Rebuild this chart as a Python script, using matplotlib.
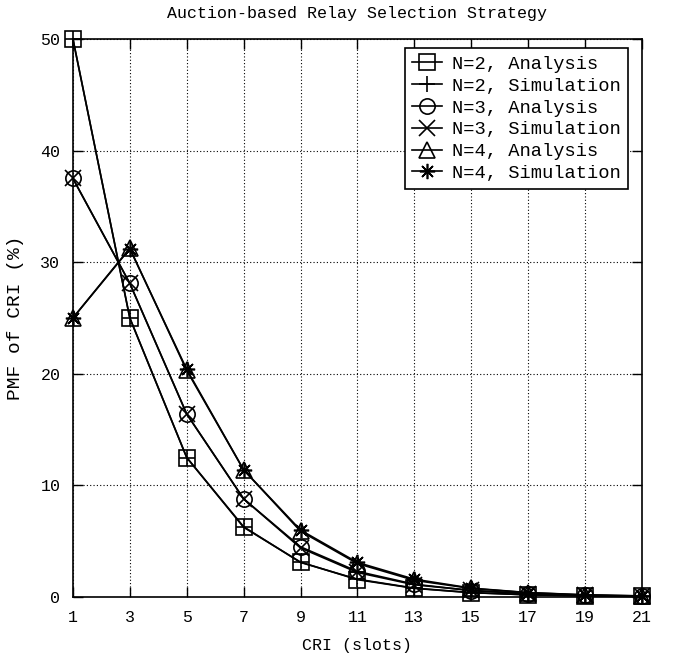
import matplotlib.pyplot as plt
import numpy as np

plt.rcParams['font.family'] = ['Liberation Mono', 'DejaVu Sans Mono']

cri = [1, 3, 5, 7, 9, 11, 13, 15, 17, 19, 21]

# PMF of CRI (%)
n2_ana = [50.0, 25.0, 12.5, 6.25, 3.13, 1.56, 0.78, 0.39, 0.2, 0.1, 0.05]
n2_sim = [50.0, 25.0, 12.5, 6.3, 3.1, 1.6, 0.8, 0.4, 0.2, 0.1, 0.05]
n3_ana = [37.5, 28.1, 16.4, 8.8, 4.5, 2.3, 1.15, 0.58, 0.29, 0.14, 0.07]
n3_sim = [37.5, 28.1, 16.4, 8.8, 4.4, 2.2, 1.1, 0.6, 0.3, 0.15, 0.07]
n4_ana = [25.0, 31.25, 20.3, 11.4, 5.9, 3.0, 1.5, 0.77, 0.39, 0.19, 0.1]
n4_sim = [25.0, 31.2, 20.4, 11.4, 6.0, 3.1, 1.6, 0.8, 0.4, 0.2, 0.1]

fig = plt.figure(figsize=(6.75, 6.59), dpi=100)
ax = fig.add_axes([0.108, 0.094, 0.843, 0.847])

ms = 11
kw = dict(color='black', lw=1.2, mfc='none', mec='black', mew=1.2, ms=ms,
          clip_on=False, zorder=3)
ax.plot(cri, n2_ana, marker='s', label='N=2, Analysis', **kw)
ax.plot(cri, n2_sim, marker='+', label='N=2, Simulation', **kw)
ax.plot(cri, n3_ana, marker='o', label='N=3, Analysis', **kw)
ax.plot(cri, n3_sim, marker='x', label='N=3, Simulation', **kw)
ax.plot(cri, n4_ana, marker='^', label='N=4, Analysis', **kw)
ax.plot(cri, n4_sim, marker=(8, 2, 0), label='N=4, Simulation', **kw)

ax.set_xlim(1, 21)
ax.set_ylim(0, 50)
ax.set_xticks(cri)
ax.set_yticks([0, 10, 20, 30, 40, 50])
ax.grid(True, color='black', linestyle=(0, (1, 2)), lw=0.8)
ax.tick_params(direction='in', top=True, right=True, length=7, width=1,
               labelsize=12, pad=9)
for s in ax.spines.values():
    s.set_linewidth(1.2)

ax.set_xlabel('CRI (slots)', fontsize=12, labelpad=10)
ax.set_ylabel('PMF of CRI (%)', fontsize=14, labelpad=12)
ax.set_title('Auction-based Relay Selection Strategy', fontsize=12, pad=15)

leg = ax.legend(loc='upper right', fontsize=13.5, frameon=True, fancybox=False,
                edgecolor='black', framealpha=1, handlelength=1.6,
                handletextpad=0.5, borderpad=0.4, labelspacing=0.25,
                borderaxespad=0.5, bbox_to_anchor=(0.992, 1.0))
leg.get_frame().set_linewidth(1.2)

fig.savefig('out.png', dpi=100)
